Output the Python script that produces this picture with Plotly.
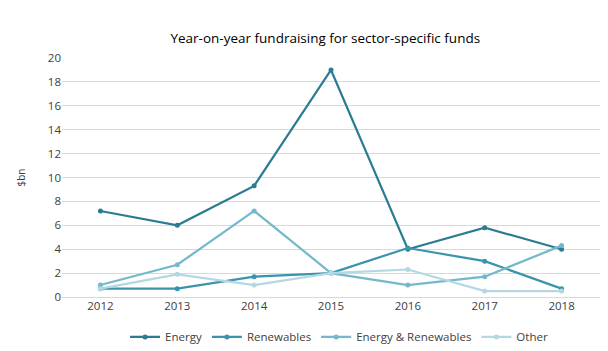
import plotly.graph_objects as go

years = ["2012", "2013", "2014", "2015", "2016", "2017", "2018"]
energy = [7.2, 6.0, 9.3, 19.0, 4.0, 5.8, 4.0]
renewables = [0.7, 0.7, 1.7, 2.0, 4.1, 3.0, 0.7]
energy_renew = [1.0, 2.7, 7.2, 2.0, 1.0, 1.7, 4.3]
other = [0.7, 1.9, 1.0, 2.0, 2.3, 0.5, 0.5]

series = [
    ("Energy", energy, "#2B7C91"),
    ("Renewables", renewables, "#3994AC"),
    ("Energy & Renewables", energy_renew, "#74B8CB"),
    ("Other", other, "#B4D7E3"),
]

fig = go.Figure()
for name, vals, col in series:
    fig.add_trace(go.Scatter(
        x=years, y=vals, name=name, mode="lines+markers",
        line=dict(color=col, width=2.2),
        marker=dict(color=col, size=5),
    ))

fig.update_layout(
    width=608, height=351,
    margin=dict(l=62, r=8, t=58, b=54, autoexpand=False),
    paper_bgcolor="white", plot_bgcolor="white",
    font=dict(family="Open Sans, Liberation Sans, sans-serif", size=11, color="#404040"),
    title=dict(text="Year-on-year fundraising for sector-specific funds",
               x=0.535, xanchor="center", y=0.89, yanchor="middle",
               font=dict(size=13.5, color="#000000")),
    xaxis=dict(type="category", showgrid=False, showline=False, ticks="",
               range=[-0.5, 6.5], tickfont=dict(size=11.5, color="#404040")),
    yaxis=dict(range=[0, 20], dtick=2, showgrid=True, gridcolor="#D9D9D9",
               gridwidth=1, zeroline=True, zerolinecolor="#D9D9D9", zerolinewidth=1,
               ticks="", tickfont=dict(size=11.5, color="#404040"),
               title=dict(text="$bn", font=dict(size=10, color="#404040"), standoff=20)),
    legend=dict(orientation="h", x=0.515, xanchor="center", y=0.04, yref="container",
                yanchor="middle",
                font=dict(size=11.5, color="#404040"), itemwidth=30, tracegroupgap=0),
    showlegend=True,
)

fig.write_html("out.html")
